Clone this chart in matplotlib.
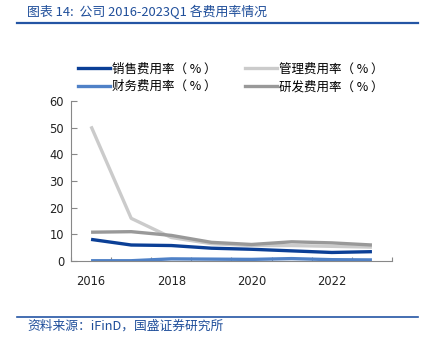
import matplotlib
matplotlib.use("Agg")
import matplotlib.pyplot as plt
from matplotlib.lines import Line2D

plt.rcParams["font.family"] = ["Noto Sans CJK SC", "DejaVu Sans"]

years = ["2016", "2017", "2018", "2019", "2020", "2021", "2022", "2023"]
sales = [8.1, 6.0, 5.8, 4.8, 4.4, 3.8, 3.2, 3.5]
admin = [50.5, 16.0, 8.8, 6.5, 5.8, 5.8, 5.5, 5.2]
finance = [0.1, 0.1, 0.8, 0.7, 0.6, 0.9, 0.5, 0.4]
rnd = [10.8, 11.0, 9.6, 7.0, 6.2, 7.2, 6.8, 6.0]

series = [
    ("销售费用率（ % ）", sales, "#0b3f96"),
    ("管理费用率（ % ）", admin, "#cbcbcb"),
    ("财务费用率（ % ）", finance, "#4f81c7"),
    ("研发费用率（ % ）", rnd, "#999999"),
]

W, H = 429, 342
fig = plt.figure(figsize=(W / 100, H / 100), dpi=100)
ax = fig.add_axes([71 / W, 1 - 261 / H, (392 - 71) / W, 160 / H])

x = list(range(len(years)))
for label, vals, color in series:
    ax.plot(x, vals, color=color, lw=2.4, solid_capstyle="butt", label=label)

ax.set_xlim(-0.5, len(years) - 0.5)
ax.set_ylim(0, 60)
ax.set_yticks(range(0, 61, 10))
ax.set_xticks([i - 0.5 for i in range(len(years) + 1)])
ax.set_xticklabels([])
ax.set_xticks(x[::2], minor=True)
ax.set_xticklabels(years[::2], minor=True)
ax.tick_params(axis="x", which="major", direction="in", length=3, color="#888888")
ax.tick_params(axis="x", which="minor", length=0, pad=10, labelsize=8.3,
               labelfontfamily="DejaVu Sans", labelcolor="#222222")
ax.tick_params(axis="y", direction="in", length=4, color="#888888", pad=5,
               labelsize=8.3, labelfontfamily="DejaVu Sans", labelcolor="#222222")
for s in ["top", "right"]:
    ax.spines[s].set_visible(False)
for s in ["left", "bottom"]:
    ax.spines[s].set_color("#888888")
    ax.spines[s].set_linewidth(0.8)

# legend fills column-first, so order for two rows: sales/admin, finance/rnd
order = [0, 2, 1, 3]
handles = [Line2D([], [], color=series[i][2], lw=2.4) for i in order]
labels = [series[i][0] for i in order]
fig.legend(handles, labels, ncol=2, loc="upper left", bbox_to_anchor=(78 / W, 1 - 62.5 / H),
           frameon=False, fontsize=9, handlelength=2.55, handletextpad=0.17,
           columnspacing=2.3, labelspacing=0.38, borderpad=0, borderaxespad=0)

blue = "#1f4e9a"
fig.text(27 / W, 1 - 12 / H, "图表 14:  公司 2016-2023Q1 各费用率情况", color=blue,
         fontsize=9.3, style="italic", va="center", ha="left")
fig.add_artist(Line2D([17 / W, 418 / W], [1 - 22.5 / H] * 2, color="#2455a4", lw=1.6))
fig.add_artist(Line2D([17 / W, 418 / W], [1 - 316.5 / H] * 2, color="#2455a4", lw=1.2))
fig.text(27 / W, 1 - 326 / H, "资料来源：iFinD，国盛证券研究所", color=blue,
         fontsize=9.2, style="italic", va="center", ha="left")

fig.savefig("out.png", dpi=100)
